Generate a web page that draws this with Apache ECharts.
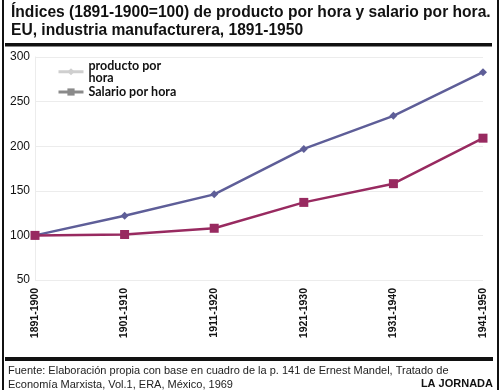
<!DOCTYPE html>
<html><head><meta charset="utf-8">
<script src="https://cdn.jsdelivr.net/npm/echarts@6/dist/echarts.min.js"></script>
<style>html,body{margin:0;padding:0;background:#fff}#c{width:500px;height:390px}</style>
</head><body><div id="c"></div>
<script>
const categories = ['1891-1900','1901-1910','1911-1920','1921-1930','1931-1940','1941-1950'];
const producto = [100, 122, 146, 197, 234, 283];
const salario = [100, 101, 108, 137, 158, 209];
const yTicks = [50, 100, 150, 200, 250, 300];
const seriesNames = ['producto por\nhora', 'Salario por hora'];

const chart = echarts.init(document.getElementById('c'), null, {renderer:'canvas'});
chart.setOption({
  animation:false,
  backgroundColor:'#fff',
  textStyle:{fontFamily:'Liberation Sans'},
  title:{
    text:'Índices (1891-1900=100) de producto por hora y salario por hora.\nEU, industria manufacturera, 1891-1950',
    left:6, top:-1,
    textStyle:{fontFamily:'Liberation Sans', fontWeight:'bold', fontSize:15.6, lineHeight:18, color:'#111'}
  },
  legend:{
    orient:'vertical', left:52, top:54, itemWidth:25, itemHeight:9, itemGap:1,
    textStyle:{fontFamily:'Lato', fontWeight:'bold', fontSize:12.5, lineHeight:12.5, color:'#111'},
    data:[
      {name:seriesNames[0], itemStyle:{color:'#cfcfcf'}, lineStyle:{color:'#cfcfcf', width:3}},
      {name:seriesNames[1], itemStyle:{color:'#8a8a8a'}, lineStyle:{color:'#8a8a8a', width:3}}
    ]
  },
  grid:{left:35, right:17, top:57, bottom:110},
  xAxis:{
    type:'category', data:categories, boundaryGap:false,
    axisLine:{show:false}, axisTick:{show:false},
    splitLine:{show:false},
    axisLabel:{rotate:90, fontWeight:'bold', fontSize:10.5, color:'#111', margin:8, fontFamily:'Liberation Sans'}
  },
  yAxis:{
    type:'value', min:50, max:300, interval:50,
    axisLine:{show:true, lineStyle:{color:'#ececec'}}, axisTick:{show:false},
    splitLine:{lineStyle:{color:'#ececec'}},
    axisLabel:{fontSize:12, color:'#111', margin:5, fontFamily:'Liberation Sans'}
  },
  series:[
    {name:seriesNames[0], type:'line', data:producto, symbol:'diamond', symbolSize:8,
     lineStyle:{width:2.5, color:'#5e5e98'}, itemStyle:{color:'#5e5e98'}},
    {name:seriesNames[1], type:'line', data:salario, symbol:'rect', symbolSize:9,
     lineStyle:{width:2.5, color:'#982a60'}, itemStyle:{color:'#982a60'}}
  ],
  graphic:[
    {type:'rect', shape:{x:2, y:0, width:2, height:390}, style:{fill:'#111'}},
    {type:'rect', shape:{x:497, y:0, width:2, height:390}, style:{fill:'#111'}},
    {type:'rect', shape:{x:5, y:43, width:487, height:3.5}, style:{fill:'#111'}},
    {type:'rect', shape:{x:5, y:357, width:488, height:4}, style:{fill:'#111'}},
    {type:'text', left:8, top:364, style:{text:'Fuente: Elaboración propia con base en cuadro de la p. 141 de Ernest Mandel, Tratado de\nEconomía Marxista, Vol.1, ERA, México, 1969', font:'11px "Liberation Sans"', lineHeight:14, fill:'#222'}},
    {type:'text', right:7, top:378, style:{text:'LA JORNADA', font:'bold 11px "Liberation Sans"', fill:'#111'}}
  ]
});
</script></body></html>
